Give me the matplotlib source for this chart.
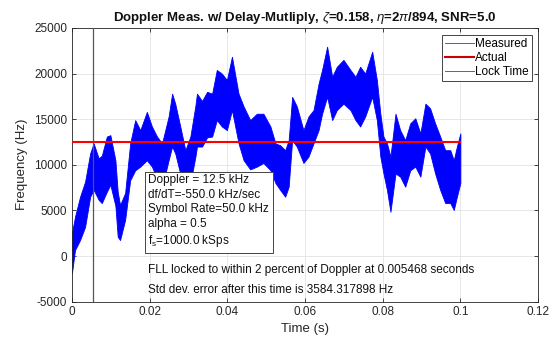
import numpy as np
import matplotlib
matplotlib.use("Agg")
import matplotlib.pyplot as plt
from matplotlib.lines import Line2D

plt.rcParams['font.family'] = ['Liberation Sans', 'DejaVu Sans']
plt.rcParams['mathtext.fontset'] = 'custom'
plt.rcParams['mathtext.rm'] = 'Liberation Sans'
plt.rcParams['mathtext.it'] = 'Liberation Sans:italic'
plt.rcParams['mathtext.bf'] = 'Liberation Sans:bold'
plt.rcParams['axes.unicode_minus'] = False

# envelope of the measured doppler trace (seconds, Hz)
t = [0.0000, 0.0008, 0.0021, 0.0034, 0.0047, 0.0056, 0.0069, 0.0077, 0.0090, 0.0099,
     0.0112, 0.0118, 0.0124, 0.0137, 0.0150, 0.0163, 0.0176, 0.0193, 0.0206, 0.0219,
     0.0232, 0.0249, 0.0258, 0.0266, 0.0279, 0.0292, 0.0305, 0.0318, 0.0322, 0.0335,
     0.0348, 0.0361, 0.0373, 0.0386, 0.0399, 0.0412, 0.0429, 0.0442, 0.0459, 0.0476,
     0.0493, 0.0511, 0.0524, 0.0536, 0.0549, 0.0558, 0.0567, 0.0579, 0.0596, 0.0609,
     0.0622, 0.0635, 0.0644, 0.0657, 0.0670, 0.0682, 0.0699, 0.0717, 0.0730, 0.0742,
     0.0755, 0.0773, 0.0785, 0.0794, 0.0802, 0.0811, 0.0820, 0.0833, 0.0845, 0.0858,
     0.0871, 0.0884, 0.0897, 0.0910, 0.0922, 0.0935, 0.0948, 0.0961, 0.0974, 0.0983,
     0.0991, 0.1000]
upper = [2500, 4300, 6500, 8150, 11250, 12350, 10700, 11000, 13100, 13250,
         10500, 7000, 5600, 6900, 12350, 14900, 13800, 15800, 14200, 13100,
         12350, 15300, 17800, 16700, 14200, 11600, 13100, 16500, 17800, 17000,
         18000, 17800, 20400, 20000, 19300, 21850, 17800, 16400, 14900, 15600,
         15600, 14200, 12350, 12150, 11600, 12700, 17450, 16400, 13800, 15300,
         16000, 18900, 20400, 22950, 19650, 20750, 21500, 20400, 19650, 20750,
         20000, 22400, 19300, 15600, 13100, 12350, 10900, 15600, 13800, 12700,
         14550, 15100, 13450, 16700, 16200, 14550, 13100, 11600, 11600, 10500,
         12000, 13450]
lower = [-1900, 650, 1750, 3200, 6500, 7250, 6150, 5800, 7050, 7800,
         5500, 2100, 1750, 3950, 8300, 9400, 9800, 10500, 9800, 8500,
         7500, 10500, 12000, 11250, 9000, 6500, 8000, 10900, 12000, 12000,
         13000, 13100, 14900, 14200, 13800, 16000, 12350, 10500, 9500, 9800,
         10200, 9400, 8000, 7250, 6500, 7600, 12700, 12000, 10200, 10900,
         12350, 13800, 15600, 17450, 14900, 16000, 16700, 16000, 14900, 14200,
         15300, 17450, 14900, 10900, 9050, 7250, 4850, 9050, 8700, 7600,
         9400, 9800, 8700, 12000, 11250, 9050, 7250, 5800, 5800, 5050,
         6500, 8000]

doppler = 12500
lock_time = 0.005468
t_end = 0.1

fig = plt.figure(figsize=(5.53, 3.37), dpi=100)
ax = fig.add_axes([0.130, 0.105, 0.843, 0.812])

ax.fill_between(t, lower, upper, color='#0000ff', lw=0.6, edgecolor='#0000ff', zorder=2)
ax.plot([0, t_end], [doppler, doppler], color='#ff0000', lw=1.5, zorder=3)
ax.axvline(lock_time, color='#555555', lw=0.9, zorder=3)

ax.set_xlim(0, 0.12)
ax.set_ylim(-5000, 25000)
ax.set_xticks([0, 0.02, 0.04, 0.06, 0.08, 0.1, 0.12])
ax.set_xticklabels(['0', '0.02', '0.04', '0.06', '0.08', '0.1', '0.12'])
ax.set_yticks(np.arange(-5000, 25001, 5000))
ax.grid(True, color='#e3e3e3', lw=0.6, zorder=0)
ax.set_axisbelow(True)
ax.tick_params(direction='in', top=True, right=True, labelsize=8.5,
               colors='#262626', length=3, width=0.6)
for s in ax.spines.values():
    s.set_color('#262626')
    s.set_linewidth(0.6)

ax.set_title(r'Doppler Meas. w/ Delay-Mutliply, $\zeta$=0.158, $\eta$=2$\pi$/894, SNR=5.0',
             fontsize=9.5, fontweight='bold', color='#111111', pad=5)
ax.set_xlabel('Time (s)', fontsize=9.5, color='#262626', labelpad=3)
ax.set_ylabel('Frequency (Hz)', fontsize=9.5, color='#262626', labelpad=4)

info = ('Doppler = 12.5 kHz\n'
        'df/dT=-550.0 kHz/sec\n'
        'Symbol Rate=50.0 kHz\n'
        'alpha = 0.5\n'
        r'f$_{\rm s}$=1000.0 kSps')
ax.text(0.0197, 9000, info, fontsize=8.5, va='top', ha='left', color='#111111',
        linespacing=1.3, zorder=5,
        bbox=dict(boxstyle='square,pad=0.3', fc='white', ec='#444444', lw=0.7))

ax.text(0.0197, -1530, 'FLL locked to within 2 percent of Doppler at 0.005468 seconds',
        fontsize=8.5, va='center', ha='left', color='#111111')
ax.text(0.0197, -3700, 'Std dev. error after this time is 3584.317898 Hz',
        fontsize=8.5, va='center', ha='left', color='#111111')

handles = [Line2D([], [], color='#5560a8', lw=0.7),
           Line2D([], [], color='#cc0000', lw=1.5),
           Line2D([], [], color='#666666', lw=0.7)]
leg = ax.legend(handles, ['Measured', 'Actual', 'Lock Time'], loc='upper right',
                bbox_to_anchor=(0.987, 0.975), fontsize=8.5, fancybox=False,
                framealpha=1, edgecolor='#444444', borderpad=0.25,
                labelspacing=0.2, handlelength=2.4, handletextpad=0.15,
                borderaxespad=0)
leg.get_frame().set_linewidth(0.7)

fig.savefig('out.png', dpi=100)
